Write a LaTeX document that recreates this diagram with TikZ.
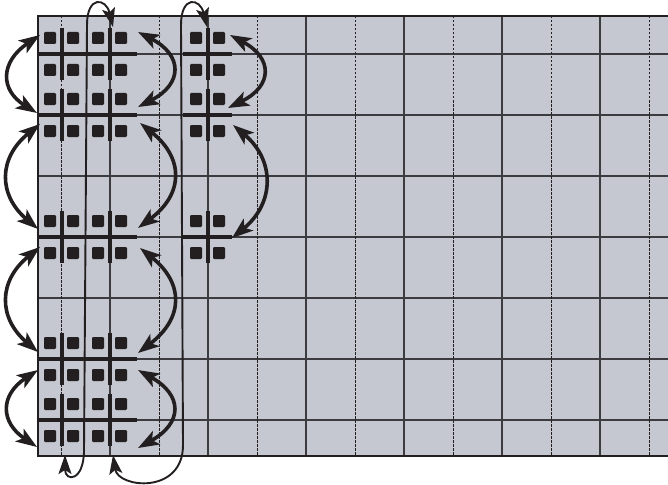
\documentclass[tikz,border=0pt]{standalone}
\usepackage{tikz}
\usetikzlibrary{arrows.meta}
\usepackage{xcolor}
\definecolor{panelGray}{RGB}{197,200,208}
\definecolor{lineGray}{RGB}{60,60,64}
\definecolor{inkBlack}{RGB}{35,31,32}
\tikzset{
    >=Stealth,
    % Grid
    panel/.style={fill=panelGray, draw=none},
    frameLine/.style={draw=inkBlack, line width=2pt},
    cellLine/.style={draw=lineGray, line width=1.6pt},
    halfLine/.style={draw=inkBlack, line width=1pt, dash pattern=on 2.5pt off 1.5pt},
    % Marks
    tie/.style={draw=inkBlack, line width=3.8pt},
    dot/.style={fill=inkBlack, rounded corners=1.2pt},
    % Flow
    swap/.style={{Stealth[length=21pt,width=15pt,inset=5pt]}-{Stealth[length=21pt,width=15pt,inset=5pt]},
                 line width=3.6pt, draw=inkBlack},
    sweep/.style={{Stealth[length=19pt,width=13pt,inset=4pt]}-{Stealth[length=19pt,width=13pt,inset=4pt]},
                  line width=1.9pt, draw=inkBlack}
}

\begin{document}
\begin{tikzpicture}[x=1pt, y=-1pt]

\useasboundingbox (0,0) rectangle (668,484);

% panel and grid
\fill[panel] (38,16) rectangle (668,456);
\foreach \y in {54,115,176,237,298,359,420}
    \draw[cellLine] (38,\y) -- (668,\y);
\foreach \x in {110,208,...,600}
    \draw[cellLine] (\x,16) -- (\x,456);
\foreach \x in {61,159,...,649}
    \draw[halfLine] (\x,16) -- (\x,456);
\draw[frameLine] (668,16) -- (38,16) -- (38,456) -- (668,456);

% crosses with their four dots
\foreach \cy in {54,115,237,359,420}
    \draw[tie] (37,\cy) -- (137,\cy);
\foreach \cy in {54,115,237}
    \draw[tie] (183,\cy) -- (232,\cy);
\foreach \cx/\cy in {62/54,110/54,208/54,62/115,110/115,208/115,
                     62/237,110/237,208/237,62/359,110/359,62/420,110/420} {
    \draw[tie] (\cx,\cy-26) -- (\cx,\cy+26);
    \foreach \dx/\dy in {-12/-16,11/-16,-12/16,11/16}
        \fill[dot] (\cx+\dx-6,\cy+\dy-6) rectangle ++(12,12);
}

% arrow ends
\coordinate (l1a) at (40,35);   \coordinate (l1b) at (37,113);
\coordinate (l2a) at (40,124);  \coordinate (l2b) at (38,229);
\coordinate (l3a) at (40,247);  \coordinate (l3b) at (38,352);
\coordinate (l4a) at (38,370);  \coordinate (l4b) at (37,447);
\coordinate (r1a) at (138,32);  \coordinate (r1b) at (138,107);
\coordinate (r2a) at (140,123); \coordinate (r2b) at (138,228);
\coordinate (r3a) at (140,248); \coordinate (r3b) at (138,353);
\coordinate (r4a) at (138,370); \coordinate (r4b) at (138,448);
\coordinate (s1a) at (230,35);  \coordinate (s1b) at (228,108);
\coordinate (s2a) at (233,125); \coordinate (s2b) at (232,238);
\coordinate (t1) at (113,27);   \coordinate (b1) at (65,455);
\coordinate (t2) at (207,27);   \coordinate (b2) at (113,455);

% swaps on the left
\draw[swap] (l1a) .. controls (0,62) and (0,90) .. (l1b);
\draw[swap] (l2a) .. controls (-2,158) and (-2,195) .. (l2b);
\draw[swap] (l3a) .. controls (-2,281) and (-2,318) .. (l3b);
\draw[swap] (l4a) .. controls (0,395) and (0,422) .. (l4b);

% swaps on the right
\draw[swap] (r1a) .. controls (183,55) and (183,84) .. (r1b);
\draw[swap] (r2a) .. controls (184,158) and (184,194) .. (r2b);
\draw[swap] (r3a) .. controls (184,283) and (184,318) .. (r3b);
\draw[swap] (r4a) .. controls (183,395) and (183,423) .. (r4b);
\draw[swap] (s1a) .. controls (273,58) and (273,86) .. (s1b);
\draw[swap] (s2a) .. controls (275,160) and (275,203) .. (s2b);

% long sweeps top to bottom
\draw[sweep] (t1) .. controls (106,-2) and (87,-5) .. (87,25)
    -- (84,450) .. controls (84,482) and (65,482) .. (b1);
\draw[sweep] (t2) .. controls (200,-2) and (181,-5) .. (181,25)
    -- (183,445) .. controls (183,495) and (118,488) .. (b2);

\end{tikzpicture}
\end{document}
